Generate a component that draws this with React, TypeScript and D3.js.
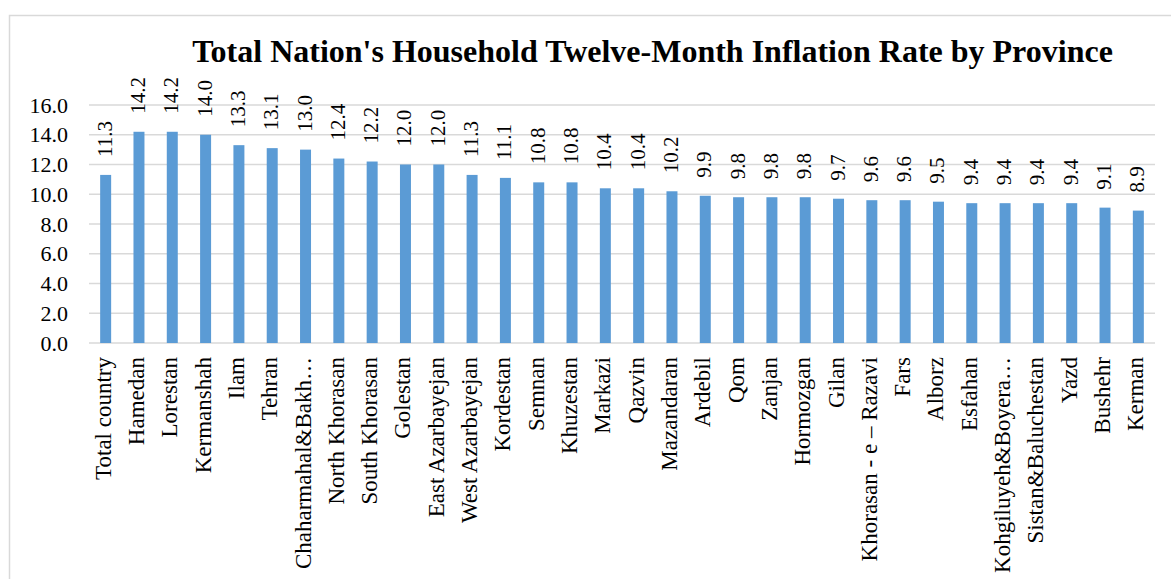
import React from "react";
import * as d3 from "d3";

const title = "Total Nation's Household Twelve-Month Inflation Rate by Province";
const categories = [
  "Total country", "Hamedan", "Lorestan", "Kermanshah", "Ilam", "Tehran",
  "Chaharmahal&Bakh…", "North Khorasan", "South Khorasan", "Golestan",
  "East Azarbayejan", "West Azarbayejan", "Kordestan", "Semnan", "Khuzestan",
  "Markazi", "Qazvin", "Mazandaran", "Ardebil", "Qom", "Zanjan", "Hormozgan",
  "Gilan", "Khorasan - e – Razavi", "Fars", "Alborz", "Esfahan",
  "Kohgiluyeh&Boyera…", "Sistan&Baluchestan", "Yazd", "Bushehr", "Kerman",
];
const values = [
  11.3, 14.2, 14.2, 14.0, 13.3, 13.1, 13.0, 12.4, 12.2, 12.0, 12.0, 11.3, 11.1,
  10.8, 10.8, 10.4, 10.4, 10.2, 9.9, 9.8, 9.8, 9.8, 9.7, 9.6, 9.6, 9.5, 9.4,
  9.4, 9.4, 9.4, 9.1, 8.9,
];
const yTicks = [0, 2, 4, 6, 8, 10, 12, 14, 16];

export default function App() {
  const W = 1171, H = 579;
  const left = 89, right = 1155, top = 105, bottom = 343;
  const x = d3.scaleBand<string>().domain(categories).range([left, right]).paddingInner(0.67).paddingOuter(0.335);
  const y = d3.scaleLinear().domain([0, 16]).range([bottom, top]);
  const font = "'Liberation Serif', 'Times New Roman', serif";
  return (
    <svg width={W} height={H} style={{ position: "absolute", left: 0, top: 0 }} fontFamily={font}>
      <rect x={0} y={0} width={W} height={H} fill="#fff" />
      <rect x={9.5} y={15.5} width={1200} height={600} fill="none" stroke="#d9d9d9" strokeWidth={1.5} />
      <text x={652.5} y={62} textAnchor="middle" fontSize={32} fontWeight="bold" fill="#000">{title}</text>
      {yTicks.map((t) => (
        <g key={t}>
          <line x1={left} x2={right} y1={y(t)} y2={y(t)} stroke="#d9d9d9" strokeWidth={1.5} />
          <text x={68} y={y(t)} dy="0.35em" textAnchor="end" fontSize={22} fill="#000">{t.toFixed(1)}</text>
        </g>
      ))}
      {categories.map((c, i) => {
        const bx = x(c)!;
        const cx = bx + x.bandwidth() / 2;
        return (
          <g key={c}>
            <rect x={bx} y={y(values[i])} width={x.bandwidth()} height={bottom - y(values[i])} fill="#5b9bd5" />
            <text transform={`translate(${cx + 6},${y(values[i]) - 18}) rotate(-90)`} fontSize={21} fill="#000">{values[i].toFixed(1)}</text>
            <text transform={`translate(${cx + 5},${bottom + 14}) rotate(-90)`} textAnchor="end" fontSize={23} fill="#000">{c}</text>
          </g>
        );
      })}
    </svg>
  );
}
